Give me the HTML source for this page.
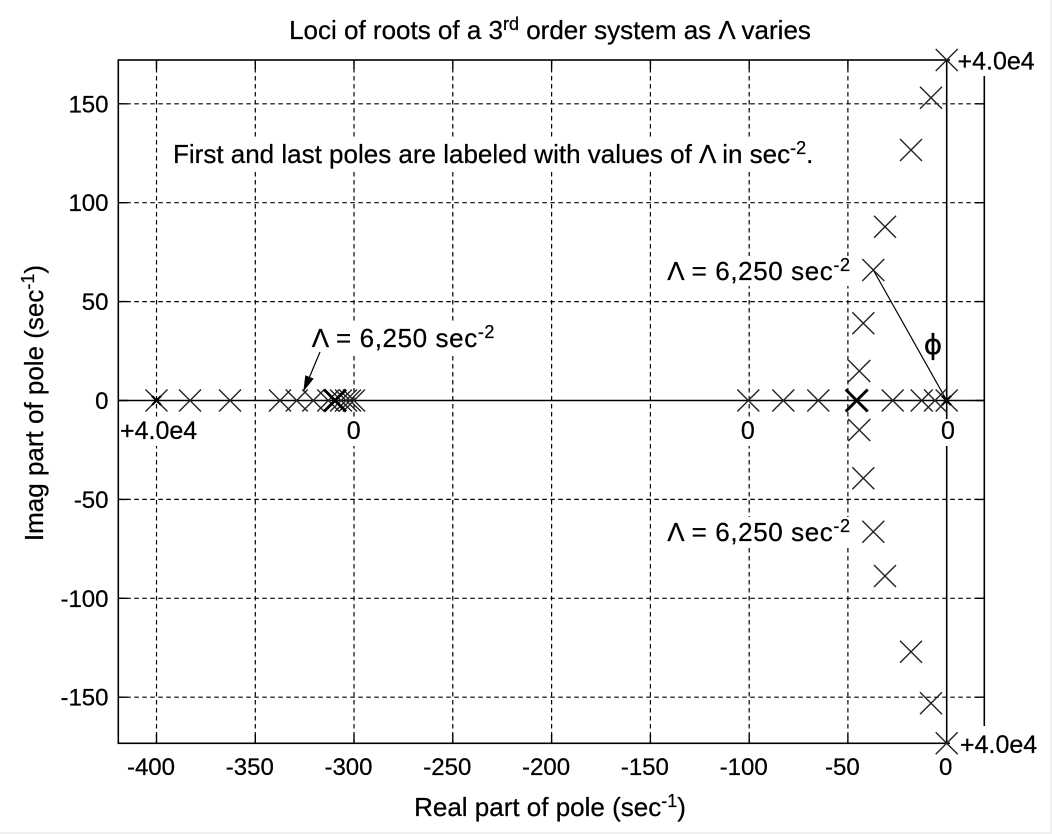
<!DOCTYPE html>
<html>
<head>
<meta charset="utf-8">
<style>
  html,body{margin:0;padding:0;background:#fff;}
  svg{display:block;}
  text{font-family:"Liberation Sans", Arial, sans-serif; fill:#000; stroke:#000; stroke-width:0.25;}
</style>
</head>
<body>
<svg width="1052" height="834" viewBox="0 0 1052 834" xmlns="http://www.w3.org/2000/svg">
  <rect x="0" y="0" width="1052" height="834" fill="#fff"/>
  <rect x="1050" y="0" width="2" height="834" fill="#f0f0f0"/>
  <rect x="0" y="832" width="1052" height="2" fill="#f0f0f0"/>

  <!-- Grid -->
  <g stroke="#000" stroke-width="1.2" stroke-dasharray="4.5,3.5" fill="none">
    <line x1="156.5" y1="60" x2="156.5" y2="743.3"/>
    <line x1="255.3" y1="60" x2="255.3" y2="743.3"/>
    <line x1="354.0" y1="60" x2="354.0" y2="743.3"/>
    <line x1="452.8" y1="60" x2="452.8" y2="743.3"/>
    <line x1="551.6" y1="60" x2="551.6" y2="743.3"/>
    <line x1="650.4" y1="60" x2="650.4" y2="743.3"/>
    <line x1="749.2" y1="60" x2="749.2" y2="743.3"/>
    <line x1="847.9" y1="60" x2="847.9" y2="743.3"/>
    <line x1="118.3" y1="103.8" x2="984.3" y2="103.8"/>
    <line x1="118.3" y1="202.7" x2="984.3" y2="202.7"/>
    <line x1="118.3" y1="301.6" x2="984.3" y2="301.6"/>
    <line x1="118.3" y1="499.4" x2="984.3" y2="499.4"/>
    <line x1="118.3" y1="598.3" x2="984.3" y2="598.3"/>
    <line x1="118.3" y1="697.2" x2="984.3" y2="697.2"/>
  </g>

  <!-- Axes box -->
  <rect x="118.3" y="60" width="866" height="683.3" fill="none" stroke="#000" stroke-width="1.6"/>

  <!-- Ticks -->
  <g stroke="#000" stroke-width="1.4">
    <path d="M156.5 743.3V734.3M255.3 743.3V734.3M354 743.3V734.3M452.8 743.3V734.3M551.6 743.3V734.3M650.4 743.3V734.3M749.2 743.3V734.3M847.9 743.3V734.3M946.7 743.3V734.3"/>
    <path d="M156.5 60V69M255.3 60V69M354 60V69M452.8 60V69M551.6 60V69M650.4 60V69M749.2 60V69M847.9 60V69"/>
    <path d="M118.3 103.8H127.3M118.3 202.7H127.3M118.3 301.6H127.3M118.3 400.5H127.3M118.3 499.4H127.3M118.3 598.3H127.3M118.3 697.2H127.3"/>
    <path d="M984.3 103.8H975.3M984.3 202.7H975.3M984.3 301.6H975.3M984.3 400.5H975.3M984.3 499.4H975.3M984.3 598.3H975.3M984.3 697.2H975.3"/>
  </g>

  <!-- Real and imaginary axis lines -->
  <line x1="118.3" y1="400.5" x2="984.3" y2="400.5" stroke="#000" stroke-width="1.6"/>
  <line x1="946.7" y1="60" x2="946.7" y2="743.3" stroke="#000" stroke-width="1.6"/>

  <!-- angle line -->
  <line x1="873.3" y1="270" x2="946.7" y2="400.5" stroke="#000" stroke-width="1.2"/>

  <!-- Text backgrounds -->
  <g fill="#fff">
    <rect x="950" y="42" width="92" height="34"/>
    <rect x="950" y="726" width="92" height="36"/>
    <rect x="119.5" y="419" width="82" height="27"/>
    <rect x="345" y="419" width="18" height="27"/>
    <rect x="739" y="419" width="18" height="27"/>
    <rect x="939.5" y="419" width="17" height="27"/>
    <rect x="168" y="137" width="658" height="34"/>
    <rect x="308" y="324" width="194" height="30"/>
    <rect x="663" y="256" width="194" height="30"/>
    <rect x="663" y="517" width="194" height="30"/>
  </g>

  <!-- Markers -->
  <g stroke="#222" stroke-width="1.4" fill="none">
    <!-- left real branch -->
    <path d="M145.5 389.5L167.5 411.5M145.5 411.5L167.5 389.5"/>
    <path d="M179 389.5L201 411.5M179 411.5L201 389.5"/>
    <path d="M219 389.5L241 411.5M219 411.5L241 389.5"/>
    <path d="M269 389.5L291 411.5M269 411.5L291 389.5"/>
    <path d="M285.7 389.5L307.7 411.5M285.7 411.5L307.7 389.5"/>
    <path d="M302.3 389.5L324.3 411.5M302.3 411.5L324.3 389.5"/>
    <path d="M317.3 389.5L339.3 411.5M317.3 411.5L339.3 389.5"/>
    <path d="M330 389.5L352 411.5M330 411.5L352 389.5"/>
    <path d="M335 389.5L357 411.5M335 411.5L357 389.5"/>
    <path d="M339 389.5L361 411.5M339 411.5L361 389.5"/>
    <path d="M343 389.5L365 411.5M343 411.5L365 389.5"/>
    <!-- right real branch -->
    <path d="M737.3 389.5L759.3 411.5M737.3 411.5L759.3 389.5"/>
    <path d="M772.3 389.5L794.3 411.5M772.3 411.5L794.3 389.5"/>
    <path d="M807.3 389.5L829.3 411.5M807.3 411.5L829.3 389.5"/>
    <path d="M881.7 389.5L903.7 411.5M881.7 411.5L903.7 389.5"/>
    <path d="M910.7 389.5L932.7 411.5M910.7 411.5L932.7 389.5"/>
    <path d="M924 389.5L946 411.5M924 411.5L946 389.5"/>
    <path d="M935.7 389.5L957.7 411.5M935.7 411.5L957.7 389.5"/>
    <!-- upper complex -->
    <path d="M848.3 360L870.3 382M848.3 382L870.3 360"/>
    <path d="M852.3 312.3L874.3 334.3M852.3 334.3L874.3 312.3"/>
    <path d="M862.3 259L884.3 281M862.3 281L884.3 259"/>
    <path d="M874 215.7L896 237.7M874 237.7L896 215.7"/>
    <path d="M900 139L922 161M900 161L922 139"/>
    <path d="M920 86.7L942 108.7M920 108.7L942 86.7"/>
    <path d="M935.7 49L957.7 71M935.7 71L957.7 49"/>
    <!-- lower complex -->
    <path d="M848.3 419L870.3 441M848.3 441L870.3 419"/>
    <path d="M852.3 467.3L874.3 489.3M852.3 489.3L874.3 467.3"/>
    <path d="M862.3 520.7L884.3 542.7M862.3 542.7L884.3 520.7"/>
    <path d="M874 565L896 587M874 587L896 565"/>
    <path d="M900 640.7L922 662.7M900 662.7L922 640.7"/>
    <path d="M920 692.3L942 714.3M920 714.3L942 692.3"/>
    <path d="M935.7 732.3L957.7 754.3M935.7 754.3L957.7 732.3"/>
  </g>
  <!-- bold markers -->
  <g stroke="#000" stroke-width="3" fill="none">
    <path d="M324 389.5L346 411.5M324 411.5L346 389.5"/>
    <path d="M845.7 389.5L867.7 411.5M845.7 411.5L867.7 389.5"/>
  </g>
  <g stroke="#000" stroke-width="2.2" fill="none">
    <path d="M152 396L161 405M152 405L161 396"/>
    <path d="M942 396L951 405M942 405L951 396"/>
  </g>

  <!-- arrow -->
  <line x1="320" y1="352" x2="309.5" y2="377" stroke="#000" stroke-width="1.2"/>
  <polygon points="303.3,391.7 313.7,378.6 305.3,375.2" fill="#000"/>

  <!-- Title -->
  <text x="550" y="39" text-anchor="middle" font-size="26">Loci of roots of a 3<tspan font-size="18" dy="-9">rd</tspan><tspan dy="9"> order system as Λ varies</tspan></text>

  <!-- annotation -->
  <text x="173" y="163" font-size="26">First and last poles are labeled with values of Λ in sec<tspan font-size="18" dy="-9">-2</tspan><tspan dy="9">.</tspan></text>

  <text x="311.7" y="347" font-size="26" letter-spacing="0.6">Λ = 6,250 sec<tspan font-size="18" dy="-9">-2</tspan></text>
  <text x="667.3" y="280" font-size="26" letter-spacing="0.6">Λ = 6,250 sec<tspan font-size="18" dy="-9">-2</tspan></text>
  <text x="667.3" y="541" font-size="26" letter-spacing="0.6">Λ = 6,250 sec<tspan font-size="18" dy="-9">-2</tspan></text>

  <text x="933" y="354" text-anchor="middle" font-size="28" style="font-family:'DejaVu Sans','Liberation Sans',sans-serif">ϕ</text>

  <!-- point labels -->
  <text x="120" y="439" font-size="25">+4.0e4</text>
  <text x="353.7" y="439" text-anchor="middle" font-size="25">0</text>
  <text x="747.8" y="439" text-anchor="middle" font-size="25">0</text>
  <text x="948" y="439" text-anchor="middle" font-size="25">0</text>
  <text x="957.5" y="69.5" font-size="25">+4.0e4</text>
  <text x="960" y="753" font-size="25">+4.0e4</text>

  <!-- Y tick labels -->
  <g font-size="24" text-anchor="end">
    <text x="108.5" y="112.3">150</text>
    <text x="108.5" y="211.2">100</text>
    <text x="108.5" y="310.1">50</text>
    <text x="108.5" y="409">0</text>
    <text x="108.5" y="507.9">-50</text>
    <text x="108.5" y="606.8">-100</text>
    <text x="108.5" y="705.7">-150</text>
  </g>

  <!-- X tick labels -->
  <g font-size="24" text-anchor="end">
    <text x="175" y="775">-400</text>
    <text x="273.8" y="775">-350</text>
    <text x="372.5" y="775">-300</text>
    <text x="471.3" y="775">-250</text>
    <text x="570.1" y="775">-200</text>
    <text x="668.9" y="775">-150</text>
    <text x="767.7" y="775">-100</text>
    <text x="859.7" y="775">-50</text>
  </g>
  <text x="945.7" y="775" font-size="24" text-anchor="middle">0</text>

  <!-- Axis labels -->
  <text x="550" y="816" text-anchor="middle" font-size="26">Real part of pole (sec<tspan font-size="18" dy="-9">-1</tspan><tspan dy="9">)</tspan></text>
  <text transform="translate(43,403) rotate(-90)" text-anchor="middle" font-size="26">Imag part of pole (sec<tspan font-size="18" dy="-9">-1</tspan><tspan dy="9">)</tspan></text>
</svg>
</body>
</html>
